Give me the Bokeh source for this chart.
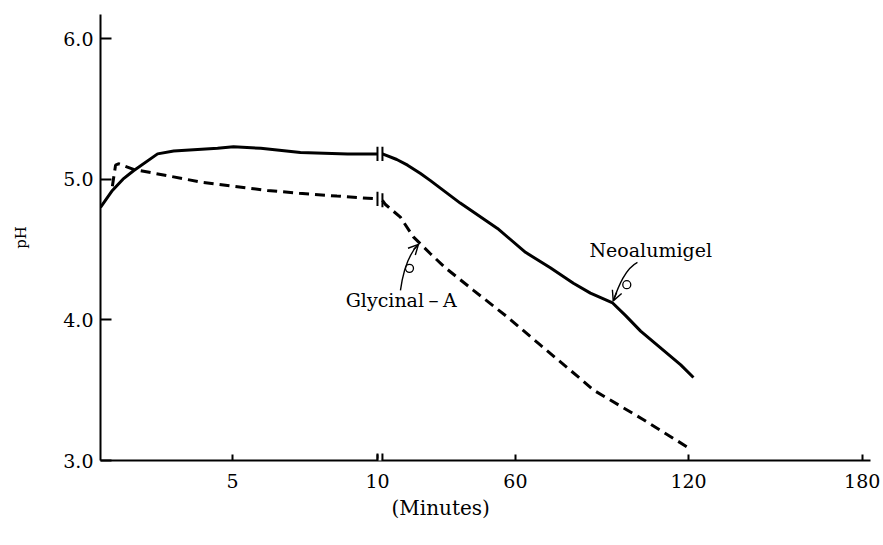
import numpy as np
from bokeh.plotting import figure
from bokeh.models import (Range1d, FixedTicker, CustomJSTickFormatter, PrintfTickFormatter,
                          Label, Arrow, OpenHead, Title)
from bokeh.embed import file_html
from bokeh.resources import INLINE

# ---------------- data (minutes, pH) ----------------
neo_min_a = [0, 0.45, 0.85, 1.25, 2.16, 2.77, 4.43, 5.03, 5.97, 7.34, 8.97, 10]
neo_ph_a = [4.80, 4.92, 5.00, 5.06, 5.18, 5.20, 5.22, 5.23, 5.22, 5.19, 5.18, 5.18]
neo_min_b = [11.8, 17, 20.9, 25.6, 29.2, 40, 53.5, 63.5, 72.1, 80.1, 86.0, 93.7,
             98.2, 103.4, 110.3, 117.3, 121.7]
neo_ph_b = [5.18, 5.14, 5.10, 5.04, 4.99, 4.83, 4.65, 4.48, 4.37, 4.26, 4.19, 4.12,
            4.03, 3.92, 3.80, 3.68, 3.59]

gly_min_a = [0.45, 0.57, 0.68, 1.25, 3.79, 6.2, 7.3, 8.6, 10]
gly_ph_a = [4.95, 5.10, 5.11, 5.07, 4.98, 4.92, 4.90, 4.88, 4.86]
gly_min_b = [11.8, 12.9, 18.3, 23.0, 29.2, 34.6, 44.8, 57.1, 68.7, 82.6, 87.1, 104.4, 120]
gly_ph_b = [4.85, 4.82, 4.73, 4.59, 4.47, 4.37, 4.21, 4.02, 3.82, 3.58, 3.50, 3.29, 3.09]

x_tick_minutes = [5, 10, 60, 120, 180]
x_tick_labels = ["5", "10", "60", "120", "180"]
y_ticks = [3.0, 4.0, 5.0, 6.0]

# broken time axis: minutes -> axis position
AXIS_MIN = [0, 5, 10, 60, 120, 180]
AXIS_POS = [0, 4.77, 10, 14.98, 21.23, 27.5]


def pos(t):
    return np.interp(np.asarray(t, dtype=float), AXIS_MIN, AXIS_POS)


def fpos(t):
    return float(pos(t))


FONT = "DejaVu Serif"

p = figure(width=883, height=545, output_backend="svg", toolbar_location=None,
           x_range=Range1d(0, 27.8), y_range=Range1d(3.0, 6.171),
           min_border_left=100, min_border_right=13, min_border_top=14,
           min_border_bottom=85)
p.outline_line_color = None
p.grid.visible = False
p.background_fill_color = "white"
p.border_fill_color = "white"

# axes
xa = p.xaxis[0]
xa.ticker = FixedTicker(ticks=list(pos(x_tick_minutes)))
xa.formatter = CustomJSTickFormatter(
    args=dict(pos=[float(v) for v in pos(x_tick_minutes)], labels=x_tick_labels),
    code="""
    let best = 0, d = Infinity;
    for (let i = 0; i < pos.length; i++) {
      const e = Math.abs(pos[i] - tick);
      if (e < d) { d = e; best = i; }
    }
    return labels[best];
    """)
ya = p.yaxis[0]
ya.ticker = FixedTicker(ticks=y_ticks)
ya.formatter = PrintfTickFormatter(format="%.1f")
for ax in (xa, ya):
    ax.axis_line_width = 2
    ax.axis_line_color = "black"
    ax.major_tick_line_width = 2
    ax.major_tick_line_color = "black"
    ax.major_tick_out = 0
    ax.minor_tick_line_color = None
    ax.major_label_text_font = FONT
    ax.major_label_text_font_size = "19px"
    ax.major_label_text_color = "black"
xa.major_tick_in = 6
xa.major_label_standoff = 13
ya.major_tick_in = 11
ya.major_label_standoff = 7
ya.axis_label = "pH"
ya.axis_label_text_font = FONT
ya.axis_label_text_font_size = "15px"
ya.axis_label_text_font_style = "normal"
ya.axis_label_text_color = "black"
ya.axis_label_standoff = 30

# curves
p.line(pos(neo_min_a), neo_ph_a, line_width=3, line_color="black", line_join="round")
p.line(pos(neo_min_b), neo_ph_b, line_width=3, line_color="black", line_join="round")
p.line(pos(gly_min_a), gly_ph_a, line_width=3, line_color="black", line_dash="10 6")
p.line(pos(gly_min_b), gly_ph_b, line_width=3, line_color="black", line_dash="10 6")

# break marks on the curves
b0, b1 = fpos(10), fpos(neo_min_b[0])
h = 0.05
bx, by0, by1 = [], [], []
for ya_, yb_ in ((neo_ph_a[-1], neo_ph_b[0]), (gly_ph_a[-1], gly_ph_b[0])):
    bx += [b0, b1]
    by0 += [ya_ - h, yb_ - h]
    by1 += [ya_ + h, yb_ + h]
p.segment(x0=bx, y0=by0, x1=bx, y1=by1, line_width=2, line_color="black")

# break on the time axis
p.add_layout(Arrow(start=None, end=None, x_start=b0 + 0.03, y_start=3.0,
                   x_end=b1 - 0.03, y_end=3.0, line_color="white", line_width=4))
for bxx in (b0, b1):
    p.add_layout(Arrow(start=None, end=None, x_start=bxx, y_start=3.0 - h,
                       x_end=bxx, y_end=3.0 + h, line_color="black", line_width=2))

# annotations
p.add_layout(Label(x=fpos(106.9), y=4.494, text="Neoalumigel", text_font=FONT,
                   text_font_size="19px", text_align="center",
                   text_baseline="alphabetic", text_color="black"))
p.add_layout(Label(x=fpos(18.6), y=4.14, text="Glycinal－A", text_font=FONT,
                   text_font_size="19px", text_align="center",
                   text_baseline="alphabetic", text_color="black"))

# curly pointer arrows
p.bezier(x0=[fpos(102.3), fpos(18.33)], y0=[4.409, 4.209],
         x1=[fpos(93.9), fpos(24.86)], y1=[4.135, 4.537],
         cx0=[fpos(98.2), fpos(19.42)], cy0=[4.366, 4.366],
         cx1=[fpos(95.8), fpos(21.96)], cy1=[4.245, 4.48],
         line_width=1.4, line_color="black")
p.scatter([fpos(98.6), fpos(21.6)], [4.25, 4.366], marker="circle", size=8,
          fill_color=None, line_color="black", line_width=1.3)
p.add_layout(Arrow(end=OpenHead(size=10, line_width=1.4, line_color="black"),
                   x_start=fpos(95.1), y_start=4.195,
                   x_end=fpos(93.9), y_end=4.135,
                   line_width=1.4, line_color="black"))
p.add_layout(Arrow(end=OpenHead(size=10, line_width=1.4, line_color="black"),
                   x_start=fpos(23.1), y_start=4.50,
                   x_end=fpos(24.86), y_end=4.537,
                   line_width=1.4, line_color="black"))

# x-axis title, offset to sit where the original places it
p.add_layout(Title(text="(Minutes)", align="left", offset=291, text_font=FONT,
                   text_font_size="20px", text_font_style="normal",
                   text_color="black", standoff=6), "below")

open("out.html", "w").write(file_html(p, INLINE))
